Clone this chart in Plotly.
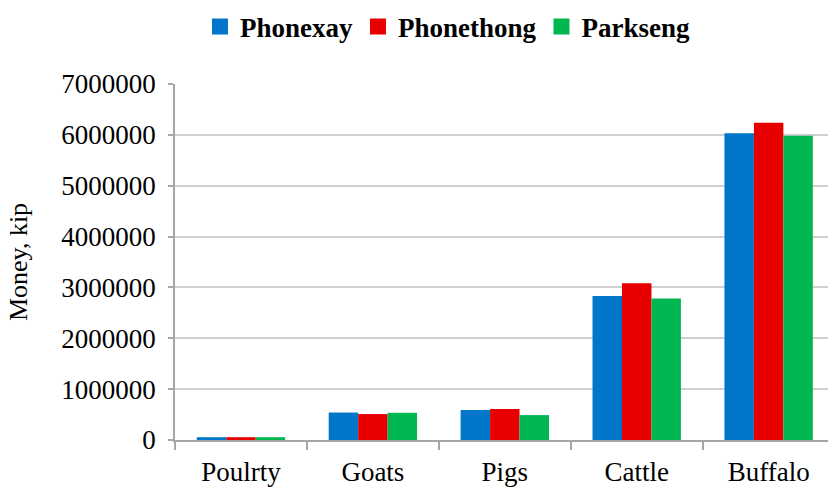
import plotly.graph_objects as go

categories = ["Poulrty", "Goats", "Pigs", "Cattle", "Buffalo"]
phonexay = [55000, 540000, 590000, 2830000, 6030000]
phonethong = [55000, 510000, 610000, 3080000, 6240000]
parkseng = [55000, 535000, 490000, 2780000, 5980000]
series_names = ["Phonexay", "Phonethong", "Parkseng"]
colors = ["#0077C8", "#E80000", "#00B752"]
y_ticks = [0, 1000000, 2000000, 3000000, 4000000, 5000000, 6000000, 7000000]

fig = go.Figure()
for name, vals, col in zip(series_names, [phonexay, phonethong, parkseng], colors):
    fig.add_trace(go.Bar(x=categories, y=vals, name=name, marker=dict(color=col, line=dict(width=0)),
                         showlegend=False))
for name, col in zip(series_names, colors):
    fig.add_trace(go.Scatter(x=[None], y=[None], mode="markers", name=name,
                             marker=dict(symbol="square", size=17, color=col)))

fig.update_layout(
    width=828, height=487,
    paper_bgcolor="white", plot_bgcolor="white",
    margin=dict(l=175, r=0, t=84, b=47),
    barmode="group", bargap=0.33, bargroupgap=0,
    font=dict(family="Liberation Serif", color="black"),
    legend=dict(orientation="h", x=0.2415, xref="container", y=0.995, yref="container",
                yanchor="top", xanchor="left",
                font=dict(family="Liberation Serif", size=27, weight="bold"),
                itemwidth=30, tracegroupgap=0),
    showlegend=True,
)
fig.update_xaxes(range=[-0.5, 4.45], showline=True, linecolor="#A6A6A6", linewidth=1.5,
                 ticks="outside", tickson="boundaries", ticklen=8, tickcolor="#A6A6A6", tickwidth=1.5,
                 ticklabelstandoff=7,
                 tickfont=dict(size=27), showgrid=False)
fig.update_yaxes(range=[0, 7000000], tickvals=y_ticks, ticktext=[str(v) for v in y_ticks],
                 showline=True, linecolor="#A6A6A6", linewidth=1.5,
                 ticks="outside", ticklen=5, tickcolor="#A6A6A6", tickwidth=1.5,
                 ticklabelstandoff=7,
                 gridcolor="#D0D0D0", gridwidth=1.5, zeroline=False,
                 tickfont=dict(size=27),
                 title=dict(text="Money, kip", font=dict(size=26), standoff=26))

fig.write_html("out.html", config={"displayModeBar": False},
               post_script="document.body.style.margin='0';")
